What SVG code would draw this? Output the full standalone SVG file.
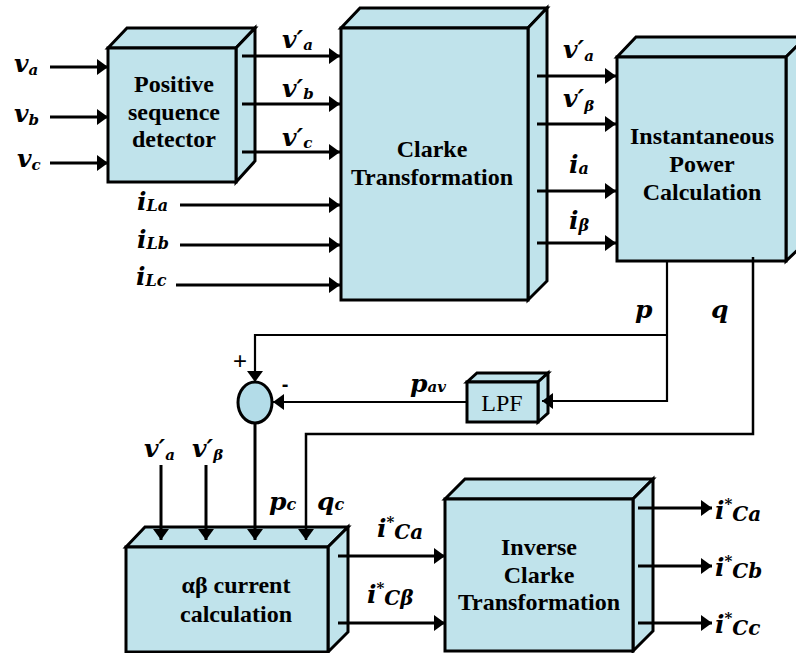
<svg xmlns="http://www.w3.org/2000/svg" width="796" height="653" viewBox="0 0 796 653">
<defs>
<marker id="ah" markerUnits="userSpaceOnUse" markerWidth="12" markerHeight="16" refX="11" refY="8" orient="auto"><path d="M0,0 L11,8 L0,16 z" fill="#000"/></marker>
</defs>

<g id="psd">
<g fill="#C0E3EB" stroke="#000" stroke-width="3">
<path d="M108,48 L127,28 L255,28 L236,48 Z"/>
<path d="M236,48 L255,28 L255,161 L236,182 Z"/>
<rect x="108" y="48" width="128" height="134"/>
</g>
<g font-family="Liberation Serif" font-weight="700" font-size="24" text-anchor="middle">
<text x="174" y="92">Positive</text>
<text x="174" y="120">sequence</text>
<text x="174" y="147">detector</text>
</g>
</g>

<g id="clarke">
<g fill="#C0E3EB" stroke="#000" stroke-width="3">
<path d="M341,28 L360,8 L547,8 L528,28 Z"/>
<path d="M528,28 L547,8 L547,281 L528,300 Z"/>
<rect x="341" y="28" width="187" height="272"/>
</g>
<g font-family="Liberation Serif" font-weight="700" font-size="24" text-anchor="middle">
<text x="432" y="157">Clarke</text>
<text x="432" y="185">Transformation</text>
</g>
</g>

<g id="ipc">
<g fill="#C0E3EB" stroke="#000" stroke-width="3">
<path d="M617,57 L636,37 L806,37 L786,57 Z"/>
<path d="M786,57 L806,37 L806,242 L786,261 Z"/>
<rect x="617" y="57" width="169" height="204"/>
</g>
<g font-family="Liberation Serif" font-weight="700" font-size="24" text-anchor="middle">
<text x="702" y="144">Instantaneous</text>
<text x="702" y="172">Power</text>
<text x="702" y="200">Calculation</text>
</g>
</g>

<g id="lpf">
<g fill="#C0E3EB" stroke="#000" stroke-width="3">
<path d="M467,382 L477,373 L548,373 L538,382 Z"/>
<path d="M538,382 L548,373 L548,413 L538,422 Z"/>
<rect x="467" y="382" width="71" height="40"/>
</g>
<text x="502" y="411" font-family="Liberation Serif" font-size="24" text-anchor="middle">LPF</text>
</g>

<g id="sum">
<ellipse cx="255" cy="402.5" rx="17" ry="20.5" fill="#B3DCE8" stroke="#000" stroke-width="3"/>
<text x="240" y="369" font-family="Liberation Sans" font-size="24" text-anchor="middle">+</text>
<text x="285" y="391" font-family="Liberation Sans" font-size="20" font-weight="700" text-anchor="middle">-</text>
</g>

<g id="abcalc">
<g fill="#C0E3EB" stroke="#000" stroke-width="3">
<path d="M126,547 L145,527 L348,527 L328,547 Z"/>
<path d="M328,547 L348,527 L348,632 L328,652 Z"/>
<rect x="126" y="547" width="202" height="105"/>
</g>
<g font-family="Liberation Serif" font-weight="700" font-size="24" text-anchor="middle">
<text x="236" y="593">αβ current</text>
<text x="236" y="622">calculation</text>
</g>
</g>

<g id="iclarke">
<g fill="#C0E3EB" stroke="#000" stroke-width="3">
<path d="M445,499 L465,479 L653,479 L633,499 Z"/>
<path d="M633,499 L653,479 L653,631 L633,651 Z"/>
<rect x="445" y="499" width="188" height="152"/>
</g>
<g font-family="Liberation Serif" font-weight="700" font-size="24" text-anchor="middle">
<text x="539" y="555">Inverse</text>
<text x="539" y="583">Clarke</text>
<text x="539" y="610">Transformation</text>
</g>
</g>

<g id="connectors" fill="none" stroke="#000" stroke-width="3" marker-end="url(#ah)">
<path d="M50,67 H108"/>
<path d="M50,117 H108"/>
<path d="M50,163 H108"/>
<path d="M242,56 H340"/>
<path d="M242,104 H340"/>
<path d="M242,152 H340"/>
<path d="M180,205 H340"/>
<path d="M180,245 H340"/>
<path d="M176,285 H340"/>
<path d="M537,76 H616"/>
<path d="M537,124 H616"/>
<path d="M537,191 H616"/>
<path d="M537,243 H616"/>
<path d="M667,261 V401 H542" stroke-width="2.2"/>
<path d="M667,335 H255 V382" stroke-width="2.2"/>
<path d="M467,402 H273" stroke-width="2.2"/>
<path d="M255,423 V540"/>
<path d="M753,257 V434 H306 V540" stroke-width="2.5"/>
<path d="M161,465 V540"/>
<path d="M206,465 V540"/>
<path d="M338,556 H445"/>
<path d="M338,623 H445"/>
<path d="M638,508 H712"/>
<path d="M638,566 H712"/>
<path d="M638,623 H712"/>
</g>

<g id="labels" font-family="DejaVu Serif" font-weight="700" font-style="italic" font-size="25">
<text x="14" y="72">v<tspan font-size="15" dy="3">a</tspan></text>
<text x="14" y="122">v<tspan font-size="15" dy="3">b</tspan></text>
<text x="17" y="167">v<tspan font-size="15" dy="3">c</tspan></text>
<text x="282" y="48">v′<tspan font-size="15" dy="2">a</tspan></text>
<text x="282" y="97">v′<tspan font-size="15" dy="2">b</tspan></text>
<text x="282" y="146">v′<tspan font-size="15" dy="2">c</tspan></text>
<text x="137" y="210">i<tspan font-size="16" dy="1">La</tspan></text>
<text x="137" y="248">i<tspan font-size="16" dy="1">Lb</tspan></text>
<text x="136" y="285">i<tspan font-size="16" dy="1">Lc</tspan></text>
<text x="563" y="58">v′<tspan font-size="15" dy="3">a</tspan></text>
<text x="563" y="107">v′<tspan font-size="15" dy="4">β</tspan></text>
<text x="569" y="173">i<tspan font-size="16" dy="1">a</tspan></text>
<text x="569" y="229">i<tspan font-size="16" dy="2">β</tspan></text>
<text x="635" y="318">p</text>
<text x="711" y="318">q</text>
<text x="410" y="392">p<tspan font-size="15">av</tspan></text>
<text x="144" y="457">v′<tspan font-size="15" dy="3">a</tspan></text>
<text x="192" y="457">v′<tspan font-size="15" dy="3">β</tspan></text>
<text x="269" y="510">p<tspan font-size="16">c</tspan></text>
<text x="317" y="510">q<tspan font-size="16">c</tspan></text>
<text x="377" y="537">i<tspan font-size="15" dy="-10">*</tspan><tspan font-size="20" dy="12">Ca</tspan></text>
<text x="367" y="603">i<tspan font-size="15" dy="-10">*</tspan><tspan font-size="20" dy="12">Cβ</tspan></text>
<text x="715" y="519">i<tspan font-size="15" dy="-10">*</tspan><tspan font-size="20" dy="12">Ca</tspan></text>
<text x="715" y="576">i<tspan font-size="15" dy="-10">*</tspan><tspan font-size="20" dy="12">Cb</tspan></text>
<text x="715" y="633">i<tspan font-size="15" dy="-10">*</tspan><tspan font-size="20" dy="12">Cc</tspan></text>
</g>
</svg>
